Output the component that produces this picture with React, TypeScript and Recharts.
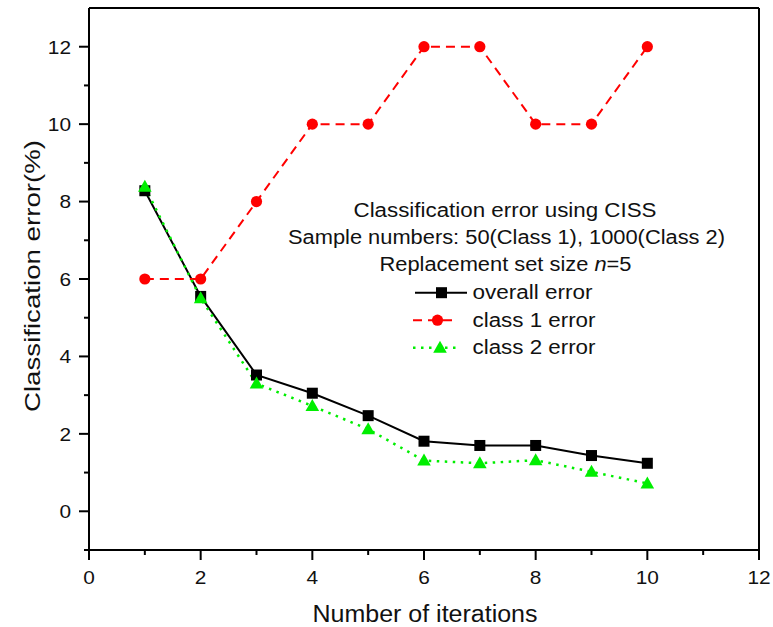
import React from 'react'
import { LineChart, Line, XAxis, YAxis, Legend, ReferenceLine } from 'recharts'

const FONT = '"Liberation Sans", Arial, Helvetica, sans-serif'

const iterations = [1, 2, 3, 4, 5, 6, 7, 8, 9, 10]
const overallError = [8.28, 5.55, 3.52, 3.05, 2.47, 1.81, 1.7, 1.7, 1.44, 1.24]
const class1Error = [6, 6, 8, 10, 10, 12, 12, 10, 10, 12]
const class2Error = [8.38, 5.5, 3.3, 2.72, 2.12, 1.31, 1.24, 1.32, 1.02, 0.72]

const xTicks = [0, 1, 2, 3, 4, 5, 6, 7, 8, 9, 10, 11, 12]
const yTicks = [-1, 0, 1, 2, 3, 4, 5, 6, 7, 8, 9, 10, 11, 12]

const seriesKeys = ['overall', 'class1', 'class2']
const seriesNames = ['overall error', 'class 1 error', 'class 2 error']

const titleLines = [
  'Classification error using CISS',
  'Sample numbers: 50(Class 1), 1000(Class 2)',
]

const data = iterations.map((it, i) => ({
  iteration: it,
  overall: overallError[i],
  class1: class1Error[i],
  class2: class2Error[i],
}))

type Shape = 'square' | 'circle' | 'triangle'

// line look per series, shared by the plot and the legend
const STYLE: Record<string, { color: string; dash?: string; width: number; shape: Shape }> = {
  overall: { color: '#000000', width: 2, shape: 'square' },
  class1: { color: '#ff0000', dash: '9 6', width: 2, shape: 'circle' },
  class2: { color: '#00ee00', dash: '2.5 5.5', width: 2.5, shape: 'triangle' },
}

function marker(shape: Shape, cx: number, cy: number, color: string, key?: string) {
  if (shape === 'square') return <rect key={key} x={cx - 5.5} y={cy - 5.5} width={11} height={11} fill={color} />
  if (shape === 'circle') return <circle key={key} cx={cx} cy={cy} r={5.6} fill={color} />
  return <polygon key={key} points={`${cx},${cy - 7} ${cx - 6.8},${cy + 5} ${cx + 6.8},${cy + 5}`} fill={color} />
}

const dotFor = (k: string) => (p: any) => marker(STYLE[k].shape, p.cx, p.cy, STYLE[k].color, `${k}-${p.index}`)

function YTick({ x, y, payload }: any) {
  const v = payload.value
  const major = v % 2 === 0
  const s = String(v)
  return (
    <g>
      <line x1={x - (major ? 10 : 5)} x2={x} y1={y} y2={y} stroke="#000" strokeWidth={2} />
      {major && (
        <text x={x - 18} y={y + 6.8} textAnchor="end" fontSize={19} fontFamily={FONT} fill="#111"
          textLength={s.length * 11.6} lengthAdjust="spacingAndGlyphs">{s}</text>
      )}
    </g>
  )
}

function XTick({ x, y, payload }: any) {
  const v = payload.value
  const major = v % 2 === 0
  const s = String(v)
  return (
    <g>
      <line x1={x} x2={x} y1={y} y2={y + (major ? 10 : 5)} stroke="#000" strokeWidth={2} />
      {major && (
        <text x={x} y={y + 34} textAnchor="middle" fontSize={19} fontFamily={FONT} fill="#111"
          textLength={s.length * 11.6} lengthAdjust="spacingAndGlyphs">{s}</text>
      )}
    </g>
  )
}

function YLabel({ viewBox }: any) {
  const vb = viewBox ?? { x: 0, y: 8, width: 89, height: 542 }
  const cx = vb.x + 40
  const cy = vb.y + vb.height / 2 - 3
  return (
    <text x={cx} y={cy} transform={`rotate(-90 ${cx} ${cy})`} textAnchor="middle" fontSize={22}
      fontFamily={FONT} fill="#111" textLength={272} lengthAdjust="spacingAndGlyphs">
      Classification error(%)
    </text>
  )
}

function XLabel({ viewBox }: any) {
  const vb = viewBox ?? { x: 89, y: 550, width: 670, height: 77 }
  return (
    <text x={vb.x + vb.width / 2 + 1} y={vb.y + 72} textAnchor="middle" fontSize={23}
      fontFamily={FONT} fill="#111" textLength={225} lengthAdjust="spacingAndGlyphs">
      Number of iterations
    </text>
  )
}

// legend block: three caption lines then one row per series
const rowSample: Record<string, [number, number, number]> = {
  overall: [135, 187, 161.5],
  class1: [133, 177, 157.5],
  class2: [133, 178, 160],
}
const rowWidth: Record<string, number> = { overall: 120, class1: 123, class2: 123 }

function renderLegend(props: any) {
  const items = [...(props.payload ?? [])].sort(
    (a: any, b: any) => seriesKeys.indexOf(a.dataKey) - seriesKeys.indexOf(b.dataKey),
  )
  return (
    <svg width={470} height={180} style={{ display: 'block', overflow: 'visible' }}>
      <g fontFamily={FONT} fontSize={20} fill="#111" textAnchor="middle">
        <text x={225} y={27} textLength={303} lengthAdjust="spacingAndGlyphs">{titleLines[0]}</text>
        <text x={226.5} y={54.3} textLength={437} lengthAdjust="spacingAndGlyphs">{titleLines[1]}</text>
        <text x={225.5} y={81} textLength={252} lengthAdjust="spacingAndGlyphs">
          Replacement set size <tspan fontStyle="italic">n</tspan>=5
        </text>
      </g>
      {items.map((it: any, i: number) => {
        const k = it.dataKey as string
        const st = STYLE[k]
        const cy = 102.7 + i * 27.5
        const [x1, x2, mx] = rowSample[k]
        return (
          <g key={k}>
            <line x1={x1} x2={x2} y1={cy} y2={cy} stroke={st.color} strokeWidth={st.width} strokeDasharray={st.dash} />
            {marker(st.shape, mx, cy, st.color)}
            <text x={192.5} y={cy + 6.5} fontFamily={FONT} fontSize={20} fill="#111"
              textLength={rowWidth[k]} lengthAdjust="spacingAndGlyphs">{it.value}</text>
          </g>
        )
      })}
    </svg>
  )
}

export default function App() {
  return (
    <div style={{ position: 'absolute', left: 0, top: 0, background: '#fff' }}>
      <LineChart width={773} height={627} data={data} margin={{ top: 8, right: 14, bottom: 0, left: 0 }}>
        <XAxis
          type="number"
          dataKey="iteration"
          domain={[0, 12]}
          ticks={xTicks}
          interval={0}
          height={77}
          tickSize={0}
          tickMargin={0}
          tickLine={false}
          axisLine={{ stroke: '#000', strokeWidth: 2 }}
          tick={<XTick />}
          label={<XLabel />}
        />
        <YAxis
          type="number"
          domain={[-1, 13]}
          ticks={yTicks}
          interval={0}
          width={89}
          tickSize={0}
          tickMargin={0}
          tickLine={false}
          axisLine={{ stroke: '#000', strokeWidth: 2 }}
          tick={<YTick />}
          label={<YLabel />}
        />
        <ReferenceLine y={13} stroke="#000" strokeWidth={2} />
        <ReferenceLine x={12} stroke="#000" strokeWidth={2} />
        <Legend
          layout="vertical"
          align="center"
          verticalAlign="middle"
          content={renderLegend}
          wrapperStyle={{ left: 280, top: 190, width: 470, height: 180 }}
        />
        {seriesKeys.map((k, i) => (
          <Line
            key={k}
            type="linear"
            dataKey={k}
            name={seriesNames[i]}
            stroke={STYLE[k].color}
            strokeWidth={STYLE[k].width}
            strokeDasharray={STYLE[k].dash}
            dot={dotFor(k)}
            activeDot={false}
            isAnimationActive={false}
          />
        ))}
      </LineChart>
    </div>
  )
}
